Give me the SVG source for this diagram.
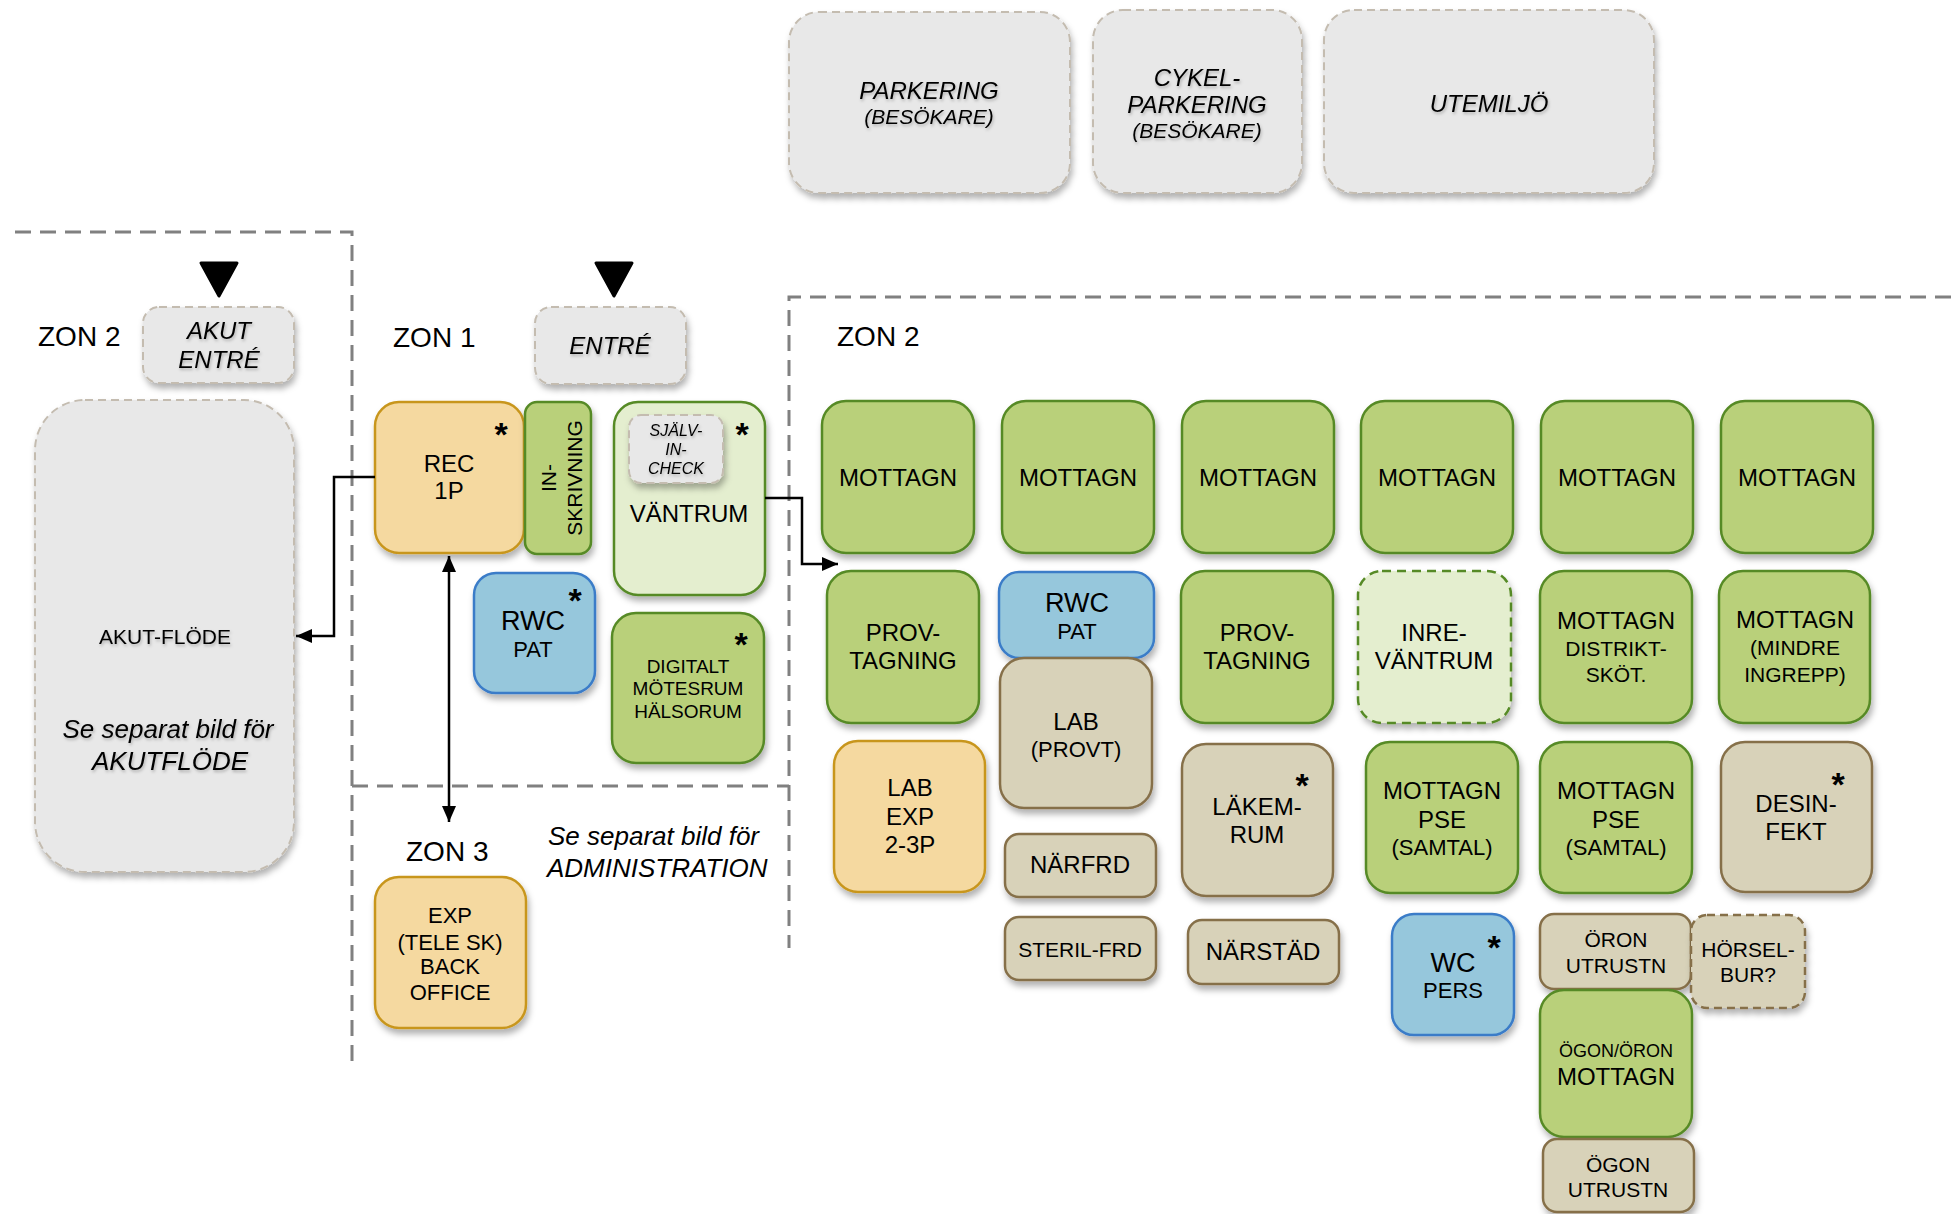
<svg xmlns="http://www.w3.org/2000/svg" width="1951" height="1214" viewBox="0 0 1951 1214">
<defs>
<filter id="sh" x="-20%" y="-20%" width="140%" height="150%"><feDropShadow dx="2" dy="5" stdDeviation="3" flood-color="#000" flood-opacity="0.3"/></filter>
<filter id="tsh" x="-10%" y="-30%" width="120%" height="170%"><feDropShadow dx="1" dy="2" stdDeviation="1.5" flood-color="#000" flood-opacity="0.25"/></filter>
<marker id="ah" viewBox="0 0 16 14" refX="16" refY="7" markerWidth="16" markerHeight="14" orient="auto-start-reverse" markerUnits="userSpaceOnUse"><path d="M0,0 L16,7 L0,14 z" fill="#000"/></marker>
</defs>
<style>
text{font-family:"Liberation Sans",Arial,sans-serif;fill:#000;text-anchor:middle;font-size:24px}
.l{text-anchor:start}
.it{font-style:italic}
.s21{font-size:21px}.s22{font-size:22px}.s19{font-size:19px}.s18{font-size:18px}.s16{font-size:16px}.s27{font-size:27px}.s26{font-size:26px}.s28{font-size:28px}
.ast{font-weight:bold;font-size:34px}
rect{filter:url(#sh);stroke-width:2.5}
.g{fill:#b9d07a;stroke:#568a25}
.lg{fill:#e4eecf;stroke:#568a25}
.lgd{fill:#e4eecf;stroke:#568a25;stroke-dasharray:9 6}
.or{fill:#f5d9a0;stroke:#c8961e}
.bl{fill:#96c7dc;stroke:#3a7cc8}
.tan{fill:#d8d2b9;stroke:#86704a}
.tand{fill:#d8d2b9;stroke:#86704a;stroke-dasharray:8 5}
.gray{fill:#e8e8e8;stroke:#c4bcb0;stroke-dasharray:8 5;stroke-width:2}
.zone{fill:none;stroke:#808080;stroke-width:3;stroke-dasharray:16 9}
.conn path{fill:none;stroke:#000;stroke-width:2.5}
.gt{filter:url(#tsh)}
</style>
<rect width="1951" height="1214" fill="#fff" style="filter:none"/>

<g id="zones">
<path class="zone" d="M15,232 H352 V1064"/>
<path class="zone" d="M352,786 H789"/>
<path class="zone" d="M1951,297 H789 V948"/>
<text class="l s28" x="38" y="346">ZON 2</text>
<text class="l s28" x="393" y="347">ZON 1</text>
<text class="l s28" x="837" y="346">ZON 2</text>
<text class="l s28" x="406" y="861">ZON 3</text>
<text class="l it s26" x="548" y="845">Se separat bild för</text>
<text class="l it s26" x="547" y="877">ADMINISTRATION</text>
<polygon points="201,263 237,263 219,296" fill="#000" stroke="#000" stroke-width="3" stroke-linejoin="round"/>
<polygon points="596,263 632,263 614,296" fill="#000" stroke="#000" stroke-width="3" stroke-linejoin="round"/>
</g>

<g id="parkering"><rect class="gray" x="789" y="12" width="281" height="181" rx="30"/>
<text class="it gt" x="929" y="99">PARKERING</text><text class="it s21 gt" x="929" y="124">(BESÖKARE)</text></g>
<g id="cykel"><rect class="gray" x="1093" y="10" width="209" height="183" rx="30"/>
<text class="it gt" x="1197" y="86">CYKEL-</text><text class="it gt" x="1197" y="113">PARKERING</text><text class="it s21 gt" x="1197" y="138">(BESÖKARE)</text></g>
<g id="utemiljo"><rect class="gray" x="1324" y="10" width="330" height="183" rx="30"/>
<text class="it gt" x="1489" y="112">UTEMILJÖ</text></g>

<g id="akutentre"><rect class="gray" x="143" y="307" width="151" height="76" rx="16"/>
<text class="it gt" x="219" y="339">AKUT</text><text class="it gt" x="219" y="368">ENTRÉ</text></g>
<g id="entre"><rect class="gray" x="535" y="307" width="151" height="77" rx="16"/>
<text class="it gt" x="610" y="354">ENTRÉ</text></g>
<g id="akutflode"><rect class="gray" x="35" y="400" width="259" height="472" rx="50"/>
<text class="s21 gt" x="165" y="644">AKUT-FLÖDE</text>
<text class="it s26 gt" x="168" y="738">Se separat bild för</text><text class="it s26 gt" x="170" y="770">AKUTFLÖDE</text></g>

<g id="rec"><rect class="or" x="375" y="402" width="149" height="151" rx="24"/>
<text x="449" y="472">REC</text><text x="449" y="499">1P</text><text class="ast" x="501" y="446">*</text></g>
<g id="inskrivning"><rect class="g" x="525" y="402" width="66" height="152" rx="12"/>
<g transform="translate(558,478) rotate(-90)"><text class="s21" x="0" y="-2">IN-</text><text class="s21" x="0" y="24">SKRIVNING</text></g></g>
<g id="vantrum"><rect class="lg" x="614" y="402" width="151" height="193" rx="24"/>
<rect class="gray" x="629" y="415" width="94" height="68" rx="12"/>
<text class="it s16 gt" x="676" y="436">SJÄLV-</text><text class="it s16 gt" x="676" y="455">IN-</text><text class="it s16 gt" x="676" y="474">CHECK</text>
<text x="689" y="522">VÄNTRUM</text><text class="ast" x="742" y="446">*</text></g>
<g id="rwc1"><rect class="bl" x="474" y="573" width="121" height="120" rx="22"/>
<text class="s27" x="533" y="630">RWC</text><text class="s22" x="533" y="657">PAT</text><text class="ast" x="575" y="612">*</text></g>
<g id="digitalt"><rect class="g" x="612" y="613" width="152" height="150" rx="24"/>
<text class="s19" x="688" y="673">DIGITALT</text><text class="s19" x="688" y="695">MÖTESRUM</text><text class="s19" x="688" y="718">HÄLSORUM</text><text class="ast" x="741" y="656">*</text></g>
<g id="exp"><rect class="or" x="375" y="877" width="151" height="151" rx="24"/>
<text class="s22" x="450" y="923">EXP</text><text class="s22" x="450" y="950">(TELE SK)</text><text class="s22" x="450" y="974">BACK</text><text class="s22" x="450" y="1000">OFFICE</text></g>

<g id="m1"><rect class="g" x="822" y="401" width="152" height="152" rx="24"/><text x="898" y="486">MOTTAGN</text></g>
<g id="m2"><rect class="g" x="1002" y="401" width="152" height="152" rx="24"/><text x="1078" y="486">MOTTAGN</text></g>
<g id="m3"><rect class="g" x="1182" y="401" width="152" height="152" rx="24"/><text x="1258" y="486">MOTTAGN</text></g>
<g id="m4"><rect class="g" x="1361" y="401" width="152" height="152" rx="24"/><text x="1437" y="486">MOTTAGN</text></g>
<g id="m5"><rect class="g" x="1541" y="401" width="152" height="152" rx="24"/><text x="1617" y="486">MOTTAGN</text></g>
<g id="m6"><rect class="g" x="1721" y="401" width="152" height="152" rx="24"/><text x="1797" y="486">MOTTAGN</text></g>

<g id="prov1"><rect class="g" x="827" y="571" width="152" height="152" rx="24"/><text x="903" y="641">PROV-</text><text x="903" y="669">TAGNING</text></g>
<g id="rwc2"><rect class="bl" x="999" y="572" width="155" height="86" rx="20"/><text class="s27" x="1077" y="612">RWC</text><text class="s22" x="1077" y="639">PAT</text></g>
<g id="lab"><rect class="tan" x="1000" y="658" width="152" height="150" rx="24"/><text x="1076" y="730">LAB</text><text class="s22" x="1076" y="757">(PROVT)</text></g>
<g id="prov2"><rect class="g" x="1181" y="571" width="152" height="152" rx="24"/><text x="1257" y="641">PROV-</text><text x="1257" y="669">TAGNING</text></g>
<g id="inre"><rect class="lgd" x="1358" y="571" width="153" height="152" rx="24"/><text x="1434" y="641">INRE-</text><text x="1434" y="669">VÄNTRUM</text></g>
<g id="distrikt"><rect class="g" x="1540" y="571" width="152" height="152" rx="24"/><text x="1616" y="629">MOTTAGN</text><text class="s21" x="1616" y="656">DISTRIKT-</text><text class="s21" x="1616" y="682">SKÖT.</text></g>
<g id="mindre"><rect class="g" x="1719" y="571" width="151" height="152" rx="24"/><text x="1795" y="628">MOTTAGN</text><text class="s21" x="1795" y="655">(MINDRE</text><text class="s21" x="1795" y="682">INGREPP)</text></g>

<g id="labexp"><rect class="or" x="834" y="741" width="151" height="151" rx="24"/><text x="910" y="796">LAB</text><text x="910" y="825">EXP</text><text x="910" y="853">2-3P</text></g>
<g id="narfrd"><rect class="tan" x="1005" y="834" width="151" height="63" rx="14"/><text x="1080" y="873">NÄRFRD</text></g>
<g id="sterilfrd"><rect class="tan" x="1005" y="917" width="151" height="63" rx="14"/><text class="s21" x="1080" y="957">STERIL-FRD</text></g>
<g id="lakem"><rect class="tan" x="1182" y="744" width="151" height="152" rx="24"/><text x="1257" y="815">LÄKEM-</text><text x="1257" y="843">RUM</text><text class="ast" x="1302" y="797">*</text></g>
<g id="narstad"><rect class="tan" x="1188" y="920" width="151" height="64" rx="14"/><text x="1263" y="960">NÄRSTÄD</text></g>
<g id="pse1"><rect class="g" x="1366" y="742" width="152" height="151" rx="24"/><text x="1442" y="799">MOTTAGN</text><text x="1442" y="828">PSE</text><text class="s22" x="1442" y="855">(SAMTAL)</text></g>
<g id="pse2"><rect class="g" x="1540" y="742" width="152" height="151" rx="24"/><text x="1616" y="799">MOTTAGN</text><text x="1616" y="828">PSE</text><text class="s22" x="1616" y="855">(SAMTAL)</text></g>
<g id="desin"><rect class="tan" x="1721" y="742" width="151" height="150" rx="24"/><text x="1796" y="812">DESIN-</text><text x="1796" y="840">FEKT</text><text class="ast" x="1838" y="796">*</text></g>
<g id="wc"><rect class="bl" x="1392" y="914" width="122" height="121" rx="22"/><text class="s27" x="1453" y="972">WC</text><text class="s22" x="1453" y="998">PERS</text><text class="ast" x="1494" y="959">*</text></g>
<g id="oronutr"><rect class="tan" x="1540" y="914" width="151" height="75" rx="14"/><text class="s21" x="1616" y="947">ÖRON</text><text class="s21" x="1616" y="973">UTRUSTN</text></g>
<g id="horsel"><rect class="tand" x="1691" y="915" width="114" height="93" rx="16"/><text class="s21" x="1748" y="957">HÖRSEL-</text><text class="s21" x="1748" y="982">BUR?</text></g>
<g id="ogonoron"><rect class="g" x="1540" y="990" width="152" height="147" rx="24"/><text class="s18" x="1616" y="1057">ÖGON/ÖRON</text><text x="1616" y="1085">MOTTAGN</text></g>
<g id="ogonutr"><rect class="tan" x="1543" y="1139" width="151" height="73" rx="14"/><text class="s21" x="1618" y="1172">ÖGON</text><text class="s21" x="1618" y="1197">UTRUSTN</text></g>

<g id="connectors" class="conn">
<path d="M375,477 H334 V636 H296" marker-end="url(#ah)"/>
<path d="M449,556 V822" marker-start="url(#ah)" marker-end="url(#ah)"/>
<path d="M765,498 H802 V564 H838" marker-end="url(#ah)"/>
</g>
</svg>
